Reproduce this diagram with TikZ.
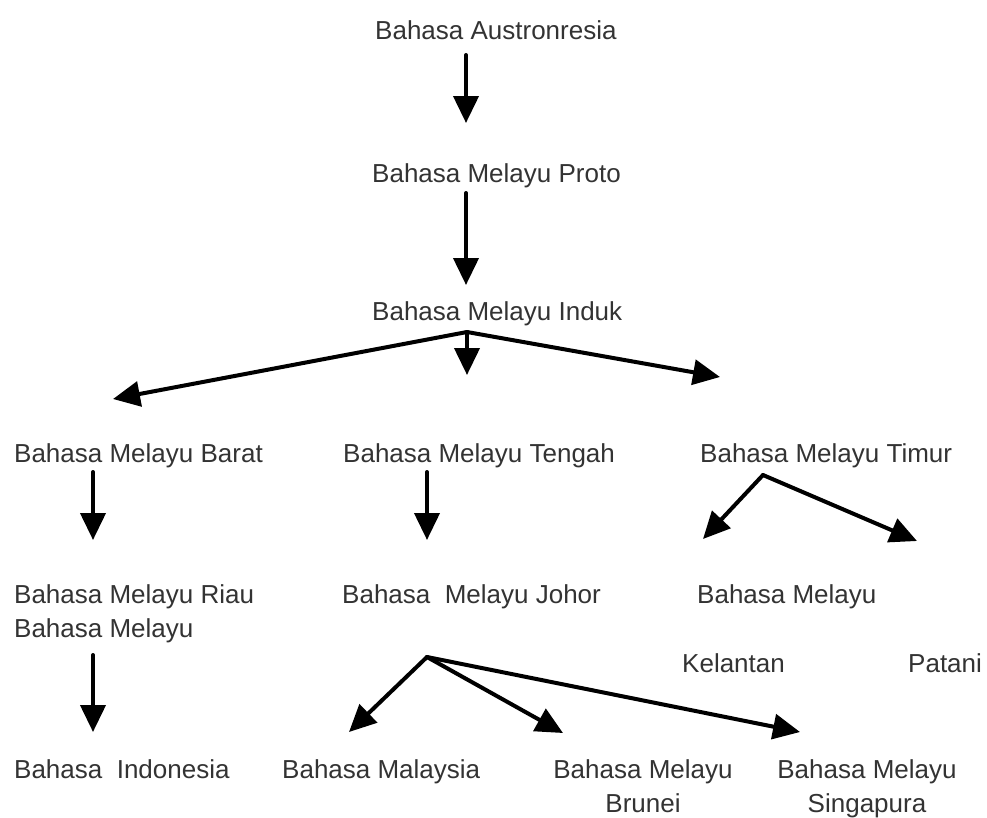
\documentclass[tikz,border=0pt]{standalone}
\usepackage{fontspec}
\setmainfont{Liberation Sans}
\usetikzlibrary{arrows.meta}
\tikzset{
  lbl/.style={inner sep=0pt, anchor=base west, text=black!80, font=\fontsize{26}{34}\selectfont},
  lblc/.style={lbl, anchor=base},
  arr/.style={line width=4pt, line cap=round, line join=round, -{Triangle[length=27pt,width=25pt]}}
}
\begin{document}
\begin{tikzpicture}[x=1pt,y=-1pt]
\useasboundingbox[fill=white] (0,0) rectangle (987,817);
% labels
\node[lbl] (aus) at (375,39) {Bahasa Austronresia};
\node[lbl] (proto) at (372,182) {Bahasa Melayu Proto};
\node[lbl] (induk) at (372,320) {Bahasa Melayu Induk};
\node[lbl] (barat) at (14,462) {Bahasa Melayu Barat};
\node[lbl] (tengah) at (343,462) {Bahasa Melayu Tengah};
\node[lbl] (timur) at (700,462) {Bahasa Melayu Timur};
\node[lbl] (riau) at (14,603) {\begin{tabular}[t]{@{}l@{}}Bahasa Melayu Riau\\Bahasa Melayu\end{tabular}};
\node[lbl] (johor) at (342,603) {Bahasa\ \ Melayu Johor};
\node[lbl] (bm) at (697,603) {Bahasa Melayu};
\node[lbl] (kel) at (682,672) {Kelantan};
\node[lbl] (pat) at (908,672) {Patani};
\node[lbl] (indo) at (14,778) {Bahasa\ \ Indonesia};
\node[lbl] (mal) at (282,778) {Bahasa Malaysia};
\node[lblc] (bru) at (643,778) {\begin{tabular}[t]{@{}c@{}}Bahasa Melayu\\Brunei\end{tabular}};
\node[lblc] (sin) at (867,778) {\begin{tabular}[t]{@{}c@{}}Bahasa Melayu\\Singapura\end{tabular}};
% arrow end points
\coordinate (a1s) at (466,55);   \coordinate (a1e) at (466,123);
\coordinate (a2s) at (466,193);  \coordinate (a2e) at (466,285);
\coordinate (j1) at (467,332);
\coordinate (j1l) at (113,399);  \coordinate (j1d) at (467,375);  \coordinate (j1r) at (720,377);
\coordinate (b1s) at (93,472);   \coordinate (b1e) at (93,540);
\coordinate (t1s) at (427,472);  \coordinate (t1e) at (427,540);
\coordinate (j2) at (763,475);
\coordinate (j2l) at (703,539);  \coordinate (j2r) at (917,541);
\coordinate (r1s) at (93,655);   \coordinate (r1e) at (93,732);
\coordinate (j3) at (427,657);
\coordinate (j3a) at (349,732);  \coordinate (j3b) at (563,733);  \coordinate (j3c) at (800,732);
% arrows
\draw[arr] (a1s) -- (a1e);
\draw[arr] (a2s) -- (a2e);
\draw[arr] (j1) -- (j1l);
\draw[arr] (j1) -- (j1d);
\draw[arr] (j1) -- (j1r);
\draw[arr] (b1s) -- (b1e);
\draw[arr] (t1s) -- (t1e);
\draw[arr] (j2) -- (j2l);
\draw[arr] (j2) -- (j2r);
\draw[arr] (r1s) -- (r1e);
\draw[arr] (j3) -- (j3a);
\draw[arr] (j3) -- (j3b);
\draw[arr] (j3) -- (j3c);
\end{tikzpicture}
\end{document}
